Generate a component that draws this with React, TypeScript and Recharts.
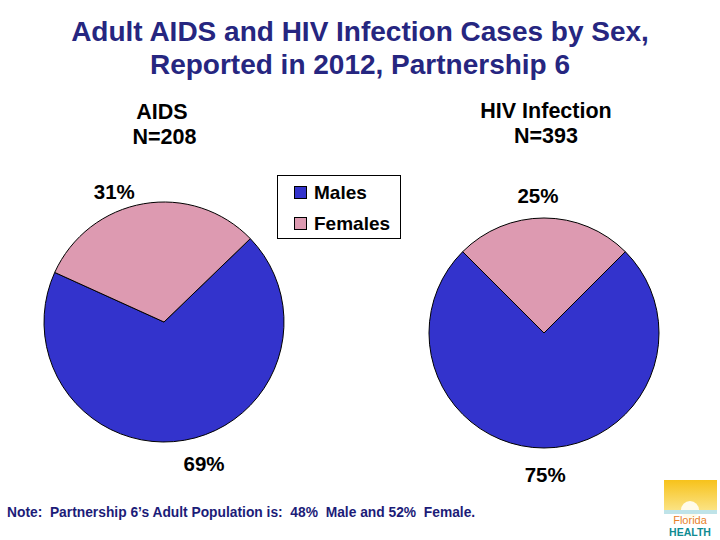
import React from "react";
import { PieChart, Pie, Cell, Legend } from "recharts";

const categories = ["Males", "Females"];
const aidsValues = [69, 31];
const hivValues = [75, 25];
const colors = ["#3333CC", "#DD9AB1"];

const titleLines = ["Adult AIDS and HIV Infection Cases by Sex,", "Reported in 2012, Partnership 6"];
const aidsHeader = ["AIDS", "N=208"];
const hivHeader = ["HIV Infection", "N=393"];
const note = "Note:  Partnership 6\u2019s Adult Population is:  48%  Male and 52%  Female.";

const aidsData = categories.map((name, i) => ({ name, value: aidsValues[i] }));
const hivData = categories.map((name, i) => ({ name, value: hivValues[i] }));

const FONT = "'Liberation Sans', Arial, sans-serif";
const RAD = Math.PI / 180;

const makeLabel = (extras: number[], turns: number[]) => (props: any) => {
  const { cx, cy, midAngle, outerRadius, value, index } = props;
  const r = outerRadius + extras[index];
  const a = (midAngle + turns[index]) * RAD;
  const x = cx + r * Math.cos(-a);
  const y = cy + r * Math.sin(-a);
  return (
    <text
      x={x}
      y={y}
      textAnchor="middle"
      dominantBaseline="central"
      fill="#000"
      fontFamily={FONT}
      fontWeight="bold"
      fontSize={20.5}
    >
      {value}%
    </text>
  );
};

const LegendContent = () => (
  <div
    style={{
      width: 124,
      height: 64,
      border: "1px solid #000",
      background: "#fff",
      fontFamily: FONT,
      fontWeight: "bold",
      fontSize: 19,
      boxSizing: "border-box",
      paddingLeft: 16,
      paddingTop: 4,
    }}
  >
    {categories.map((c, i) => (
      <div key={c} style={{ display: "flex", alignItems: "center", height: 25, marginBottom: 6 }}>
        <span
          style={{
            display: "inline-block",
            width: 11,
            height: 11,
            background: colors[i],
            border: "1px solid #000",
            marginRight: 7,
          }}
        />
        <span>{c}</span>
      </div>
    ))}
  </div>
);

const headerStyle = (left: number, top: number): React.CSSProperties => ({
  position: "absolute",
  left,
  top,
  width: 200,
  textAlign: "center",
  fontFamily: FONT,
  fontSize: 21.5,
  fontWeight: "bold",
  color: "#000",
  lineHeight: "25px",
});

export default function App() {
  return (
    <div style={{ position: "absolute", left: 0, top: 0, width: 720, height: 540, background: "#fff", overflow: "hidden" }}>
      <div
        style={{
          position: "absolute",
          left: 0,
          top: 15,
          width: 720,
          textAlign: "center",
          fontFamily: FONT,
          fontSize: 28,
          fontWeight: "bold",
          color: "#262680",
          lineHeight: "33px",
        }}
      >
        <div>{titleLines[0]}</div>
        <div>{titleLines[1]}</div>
      </div>
      <div style={headerStyle(62, 100)}>
        <div>{aidsHeader[0]}</div>
        <div style={{ paddingLeft: 5 }}>{aidsHeader[1]}</div>
      </div>
      <div style={headerStyle(446, 99)}>
        <div>{hivHeader[0]}</div>
        <div>{hivHeader[1]}</div>
      </div>
      <div style={{ position: "absolute", left: 0, top: 0 }}>
        <PieChart width={720} height={540}>
          <Pie
            data={aidsData}
            dataKey="value"
            nameKey="name"
            cx={159}
            cy={317}
            outerRadius={120}
            startAngle={44}
            endAngle={-316}
            stroke="#000"
            strokeWidth={1}
            isAnimationActive={false}
            labelLine={false}
            label={makeLabel([27, 20], [6, 11])}
          >
            {aidsData.map((d, i) => (
              <Cell key={d.name} fill={colors[i]} />
            ))}
          </Pie>
          <Pie
            data={hivData}
            dataKey="value"
            nameKey="name"
            cx={539}
            cy={328}
            outerRadius={115}
            startAngle={45}
            endAngle={-315}
            stroke="#000"
            strokeWidth={1}
            isAnimationActive={false}
            labelLine={false}
            label={makeLabel([26.5, 22.5], [0.5, 2.5])}
          >
            {hivData.map((d, i) => (
              <Cell key={d.name} fill={colors[i]} />
            ))}
          </Pie>
          <Legend
            layout="vertical"
            content={<LegendContent />}
            wrapperStyle={{ position: "absolute", left: 277, top: 175, width: 124, height: 64 }}
          />
        </PieChart>
      </div>
      <div
        style={{
          position: "absolute",
          left: 7,
          top: 505,
          fontFamily: FONT,
          fontSize: 13.8,
          fontWeight: "bold",
          color: "#1C1C78",
          whiteSpace: "pre",
        }}
      >
        {note}
      </div>
      <div style={{ position: "absolute", left: 663, top: 480, width: 55, height: 58 }}>
        <svg width={55} height={58}>
          <defs>
            <linearGradient id="sky" x1="0" y1="0" x2="0" y2="1">
              <stop offset="0" stopColor="#F7C21B" />
              <stop offset="1" stopColor="#FBE58A" />
            </linearGradient>
          </defs>
          <rect x={1} y={0} width={53} height={32} fill="url(#sky)" />
          <circle cx={27} cy={30} r={9} fill="#FFFBEA" />
          <rect x={1} y={30} width={53} height={4} fill="#BFE3E8" />
          <text x={27} y={44} textAnchor="middle" fontFamily={FONT} fontSize={11} fill="#E8812A">
            Florida
          </text>
          <text x={27} y={56} textAnchor="middle" fontFamily={FONT} fontSize={10.5} fontWeight="bold" fill="#0F8B92">
            HEALTH
          </text>
        </svg>
      </div>
    </div>
  );
}
